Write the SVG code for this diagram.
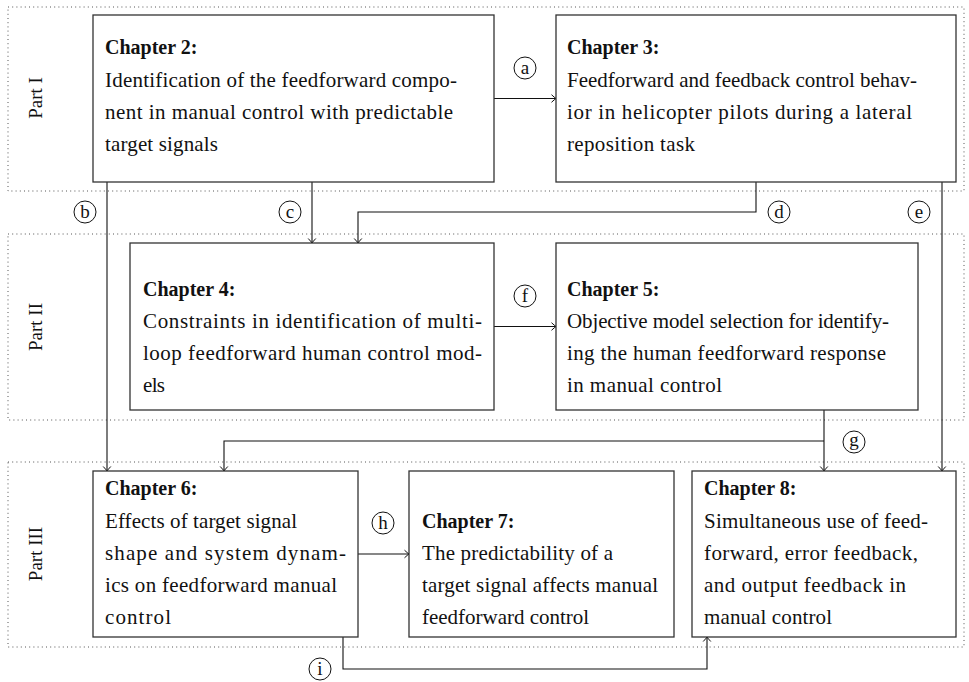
<svg xmlns="http://www.w3.org/2000/svg" width="969" height="682" viewBox="0 0 969 682">
<style>
.part{fill:none;stroke:#555;stroke-width:1;stroke-dasharray:1 3.2}
.box{fill:#fff;stroke:#333;stroke-width:1.3}
.t{font-family:"Liberation Serif","Times New Roman",serif;font-size:21px;fill:#111}
.h{font-family:"Liberation Serif","Times New Roman",serif;font-size:20px;font-weight:bold;fill:#111}
.pl{font-family:"Liberation Serif","Times New Roman",serif;font-size:19px;fill:#111;text-anchor:middle}
.c{fill:#fff;stroke:#111;stroke-width:1}
.cl{font-family:"Liberation Serif","Times New Roman",serif;font-size:19px;fill:#111;text-anchor:middle}
.e{fill:none;stroke:#111;stroke-width:1.1}
</style>
<defs>
<marker id="ar" markerUnits="userSpaceOnUse" markerWidth="12" markerHeight="12" viewBox="-6 -6 12 12" refX="0" refY="0" orient="auto">
<path d="M-4.5,-3.8 Q-1.5,-1 0,0 Q-1.5,1 -4.5,3.8" fill="none" stroke="#111" stroke-width="1"/>
</marker>
</defs>

<g id="parts">
<rect class="part" x="8" y="7" width="956" height="184"/>
<rect class="part" x="8" y="234" width="956" height="186"/>
<rect class="part" x="8" y="462" width="956" height="185"/>
<text class="pl" transform="translate(42,98) rotate(-90)">Part I</text>
<text class="pl" transform="translate(42,327) rotate(-90)">Part II</text>
<text class="pl" transform="translate(42,554) rotate(-90)">Part III</text>
</g>

<g id="connectors">
<line class="e" x1="494" y1="98.5" x2="556" y2="98.5" marker-end="url(#ar)"/>
<line class="e" x1="107" y1="182" x2="107" y2="471" marker-end="url(#ar)"/>
<line class="e" x1="312" y1="182" x2="312" y2="243" marker-end="url(#ar)"/>
<polyline class="e" points="756,182 756,212 358,212 358,243" marker-end="url(#ar)"/>
<line class="e" x1="942" y1="182" x2="942" y2="471" marker-end="url(#ar)"/>
<line class="e" x1="494" y1="326.5" x2="556" y2="326.5" marker-end="url(#ar)"/>
<line class="e" x1="824" y1="410" x2="824" y2="471" marker-end="url(#ar)"/>
<polyline class="e" points="824,441 224,441 224,471" marker-end="url(#ar)"/>
<line class="e" x1="358" y1="554" x2="409" y2="554" marker-end="url(#ar)"/>
<polyline class="e" points="343,637 343,669 707,669 707,637" marker-end="url(#ar)"/>
<g id="labels">
<circle class="c" cx="525" cy="68" r="11"/><text class="cl" x="525" y="73.5">a</text>
<circle class="c" cx="85" cy="212" r="11"/><text class="cl" x="85" y="218">b</text>
<circle class="c" cx="290" cy="212" r="11"/><text class="cl" x="290" y="217.5">c</text>
<circle class="c" cx="779" cy="212" r="11"/><text class="cl" x="779" y="218">d</text>
<circle class="c" cx="919" cy="212" r="11"/><text class="cl" x="919" y="217.5">e</text>
<circle class="c" cx="525" cy="296" r="11"/><text class="cl" x="525" y="302">f</text>
<circle class="c" cx="854" cy="442" r="11"/><text class="cl" x="854" y="446">g</text>
<circle class="c" cx="383" cy="523" r="11"/><text class="cl" x="383" y="529">h</text>
<circle class="c" cx="320" cy="669" r="11"/><text class="cl" x="320" y="675">i</text>
</g>
</g>

<g id="ch2">
<rect class="box" x="93" y="15" width="401" height="167"/>
<text class="h" x="105" y="54">Chapter 2:</text>
<text class="t" x="105" y="87" textLength="352" lengthAdjust="spacing">Identification of the feedforward compo-</text>
<text class="t" x="105" y="119" textLength="348" lengthAdjust="spacing">nent in manual control with predictable</text>
<text class="t" x="105" y="151" textLength="113" lengthAdjust="spacing">target signals</text>
</g>

<g id="ch3">
<rect class="box" x="556" y="15" width="400" height="167"/>
<text class="h" x="567" y="54">Chapter 3:</text>
<text class="t" x="567" y="87" textLength="350" lengthAdjust="spacing">Feedforward and feedback control behav-</text>
<text class="t" x="567" y="119" textLength="345" lengthAdjust="spacing">ior in helicopter pilots during a lateral</text>
<text class="t" x="567" y="151" textLength="128" lengthAdjust="spacing">reposition task</text>
</g>

<g id="ch4">
<rect class="box" x="130" y="243" width="364" height="167"/>
<text class="h" x="143" y="296">Chapter 4:</text>
<text class="t" x="143" y="328" textLength="339" lengthAdjust="spacing">Constraints in identification of multi-</text>
<text class="t" x="143" y="360" textLength="339" lengthAdjust="spacing">loop feedforward human control mod-</text>
<text class="t" x="143" y="392" textLength="22" lengthAdjust="spacing">els</text>
</g>

<g id="ch5">
<rect class="box" x="556" y="243" width="362" height="167"/>
<text class="h" x="567" y="296">Chapter 5:</text>
<text class="t" x="567" y="328" textLength="322" lengthAdjust="spacing">Objective model selection for identify-</text>
<text class="t" x="567" y="360" textLength="319" lengthAdjust="spacing">ing the human feedforward response</text>
<text class="t" x="567" y="392" textLength="155" lengthAdjust="spacing">in manual control</text>
</g>

<g id="ch6">
<rect class="box" x="93" y="471" width="265" height="166"/>
<text class="h" x="105" y="495">Chapter 6:</text>
<text class="t" x="105" y="528" textLength="192" lengthAdjust="spacing">Effects of target signal</text>
<text class="t" x="105" y="560" textLength="241" lengthAdjust="spacing">shape and system dynam-</text>
<text class="t" x="105" y="592" textLength="232" lengthAdjust="spacing">ics on feedforward manual</text>
<text class="t" x="105" y="624" textLength="66" lengthAdjust="spacing">control</text>
</g>

<g id="ch7">
<rect class="box" x="409" y="471" width="265" height="166"/>
<text class="h" x="422" y="528">Chapter 7:</text>
<text class="t" x="422" y="560" textLength="191" lengthAdjust="spacing">The predictability of a</text>
<text class="t" x="422" y="592" textLength="236" lengthAdjust="spacing">target signal affects manual</text>
<text class="t" x="422" y="624" textLength="167" lengthAdjust="spacing">feedforward control</text>
</g>

<g id="ch8">
<rect class="box" x="692" y="471" width="264" height="166"/>
<text class="h" x="704" y="495">Chapter 8:</text>
<text class="t" x="704" y="528" textLength="224" lengthAdjust="spacing">Simultaneous use of feed-</text>
<text class="t" x="704" y="560" textLength="214" lengthAdjust="spacing">forward, error feedback,</text>
<text class="t" x="704" y="592" textLength="202" lengthAdjust="spacing">and output feedback in</text>
<text class="t" x="704" y="624" textLength="128" lengthAdjust="spacing">manual control</text>
</g>
</svg>
